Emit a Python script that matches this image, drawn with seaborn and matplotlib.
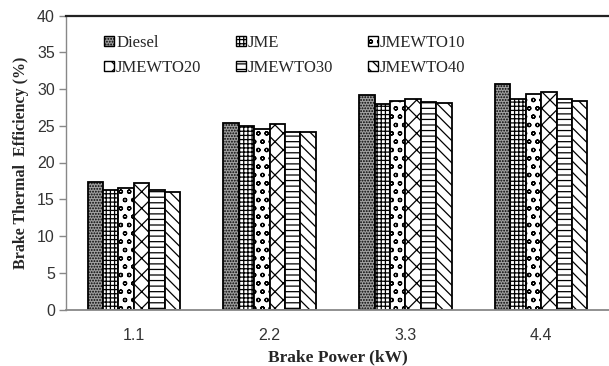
import matplotlib
matplotlib.use("Agg")
import matplotlib.pyplot as plt
import seaborn as sns
import pandas as pd
from matplotlib.patches import Patch

# ---- data ----
brake_power = ["1.1", "2.2", "3.3", "4.4"]
fuels = ["Diesel", "JME", "JMEWTO10", "JMEWTO20", "JMEWTO30", "JMEWTO40"]
diesel = [17.3, 25.4, 29.2, 30.7]
jme = [16.3, 25.0, 27.9, 28.6]
jmewto10 = [16.5, 24.6, 28.3, 29.3]
jmewto20 = [17.2, 25.3, 28.7, 29.6]
jmewto30 = [16.3, 24.2, 28.2, 28.7]
jmewto40 = [16.0, 24.1, 28.1, 28.4]
yticks = [0, 5, 10, 15, 20, 25, 30, 35, 40]

series = [diesel, jme, jmewto10, jmewto20, jmewto30, jmewto40]
rows = []
for f, vals in zip(fuels, series):
    for bp, v in zip(brake_power, vals):
        rows.append({"Brake Power": bp, "Fuel": f, "BTE": v})
df = pd.DataFrame(rows)

sns.set_theme(style="white")
plt.rcParams["hatch.linewidth"] = 0.9
plt.rcParams["hatch.color"] = "black"

fig = plt.figure(figsize=(6.09, 3.66), dpi=100)
ax = fig.add_axes([66 / 609, 1 - 309.5 / 366, 1 - 66 / 609, (309.5 - 15.5) / 366])

styles = [
    dict(fc="#a0a0a0", hatch="......"),
    dict(fc="white", hatch="++++"),
    dict(fc="white", hatch="oo"),
    dict(fc="white", hatch="xx"),
    dict(fc="white", hatch="---"),
    dict(fc="white", hatch="\\\\\\"),
]

sns.barplot(data=df, x="Brake Power", y="BTE", hue="Fuel", order=brake_power,
            hue_order=fuels, width=0.68, ax=ax, legend=False,
            edgecolor="black", linewidth=1.3, errorbar=None)

for cont, st in zip(ax.containers, styles):
    for p in cont:
        p.set_facecolor(st["fc"])
        p.set_hatch(st["hatch"])
        p.set_edgecolor("black")

ax.set_xlim(-0.5, 3.5)
ax.set_ylim(0, 40)
ax.set_yticks(yticks)
ax.set_yticklabels([str(t) for t in yticks])

ax.spines["right"].set_visible(False)
ax.spines["top"].set_color("#222222")
ax.spines["top"].set_linewidth(1.6)
ax.spines["left"].set_color("#888888")
ax.spines["bottom"].set_color("#888888")
ax.spines["left"].set_linewidth(1.0)
ax.spines["bottom"].set_linewidth(1.3)

ax.tick_params(axis="y", which="both", left=True, length=5, width=1.0, color="#888888",
               labelsize=11.5, labelcolor="#333333", pad=3)
ax.tick_params(axis="x", bottom=False, labelsize=11.5, labelcolor="#333333", pad=7)
for lab in ax.get_xticklabels() + ax.get_yticklabels():
    lab.set_family("Liberation Sans")

ax.set_xlabel("Brake Power (kW)", fontsize=12.5, fontweight="bold",
              family="Liberation Serif", labelpad=5)
ax.set_ylabel("Brake Thermal  Efficiency (%)", fontsize=11.5, fontweight="bold",
              family="Liberation Serif", labelpad=6)

handles = [Patch(facecolor=st["fc"], edgecolor="black", hatch=st["hatch"], linewidth=1.0)
           for st in styles]
# row-wise order for a 3-column, 2-row legend
order = [0, 3, 1, 4, 2, 5]
leg = ax.legend([handles[i] for i in order], [fuels[i] for i in order], ncol=3,
                loc="upper left", bbox_to_anchor=(0.043, 0.985),
                frameon=False, handlelength=0.55, handleheight=0.55, handletextpad=0.15,
                columnspacing=2.1, labelspacing=0.55,
                prop={"family": "Liberation Serif", "size": 12})

fig.savefig("out.png", dpi=100)
